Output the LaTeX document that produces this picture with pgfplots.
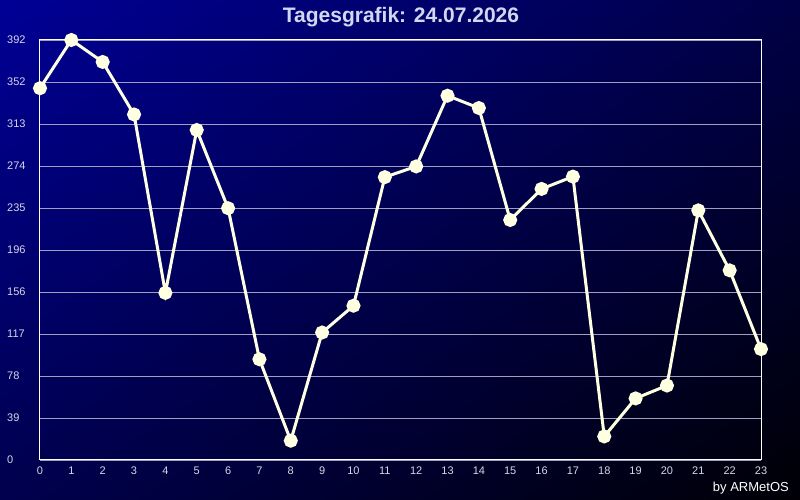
\documentclass[border=0pt]{standalone}
\usepackage{pgfplots}
\pgfplotsset{compat=1.18}
\usetikzlibrary{shadings}
\usepackage{fontspec}
\setmainfont{Liberation Sans}
\definecolor{bgTL}{RGB}{0,0,150}
\definecolor{bgTR}{RGB}{0,0,70}
\definecolor{bgBL}{RGB}{0,0,78}
\definecolor{bgBR}{RGB}{0,0,5}
\definecolor{linecol}{RGB}{255,255,225}
\definecolor{gridcol}{RGB}{160,160,190}
\definecolor{labcol}{RGB}{215,215,230}
\definecolor{titlecol}{RGB}{210,215,240}
\begin{document}
\begin{tikzpicture}[x=1pt,y=1pt]
\shade[upper left=bgTL, upper right=bgTR, lower left=bgBL, lower right=bgBR] (0,0) rectangle (800,500);
\useasboundingbox (0,0) rectangle (800,500);
\begin{axis}[
  at={(40pt,40pt)}, anchor=south west,
  scale only axis, width=721pt, height=420pt,
  xmin=0, xmax=23, ymin=0, ymax=392,
  xtick={0,...,23},
  ytick={0,39.2,78.4,117.6,156.8,196,235.2,274.4,313.6,352.8,392},
  yticklabels={0,39,78,117,156,196,235,274,313,352,392},
  major tick length=0pt,
  ymajorgrids,
  grid style={gridcol, line width=0.8pt},
  axis line style={white, line width=1pt},
  clip=false,
  tick label style={font=\fontsize{11}{13}\selectfont, text=labcol, inner sep=0pt},
  yticklabel style={anchor=west, xshift=-33pt},
  xticklabel style={anchor=north, yshift=-7pt},
  /pgf/number format/assume math mode=true,
]
\addplot[linecol, line width=3pt, mark=*, mark size=5.5pt, mark options={fill=linecol, draw=none, solid}]
coordinates {
(0,347) (1,392) (2,371.5) (3,322.5) (4,156) (5,308) (6,235) (7,94) (8,18) (9,119)
(10,144) (11,264) (12,274) (13,340) (14,328.5) (15,224) (16,253) (17,264.5) (18,22)
(19,57.5) (20,69.5) (21,233) (22,177) (23,103.5)
};
\end{axis}
\node[text=titlecol, font=\fontsize{21}{24}\selectfont\bfseries] at (401,483) {Tagesgrafik: 24.07.2026};
\node[text=white, font=\fontsize{13}{15}\selectfont, anchor=east, inner sep=0pt] at (789,12) {by ARMetOS};
\end{tikzpicture}
\end{document}
